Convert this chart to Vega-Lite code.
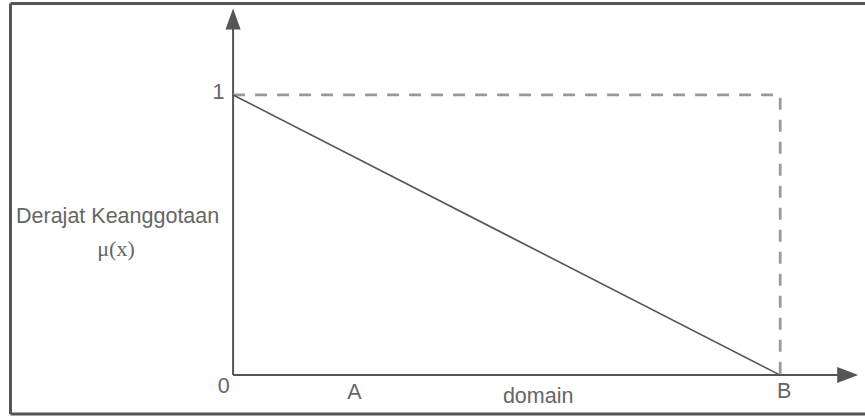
{
  "$schema": "https://vega.github.io/schema/vega-lite/v6.json",
  "width": 865,
  "height": 416,
  "autosize": "none",
  "padding": 0,
  "background": "white",
  "config": {"view": {"stroke": null}},
  "datasets": {
    "frame": [
      {"x": -0.4068, "x2": -0.4068, "y": -0.139, "y2": 1.3265},
      {"x": -0.4068, "x2": 1.25, "y": 1.3265, "y2": 1.3265},
      {"x": -0.4068, "x2": 1.25, "y": -0.139, "y2": -0.139}
    ],
    "axes": [
      {"x": 0, "x2": 0, "y": 0, "y2": 1.26},
      {"x": 0, "x2": 1.12, "y": 0, "y2": 0}
    ],
    "dashed": [
      {"x": 0, "y": 1, "o": 1},
      {"x": 1, "y": 1, "o": 2},
      {"x": 1, "y": 0, "o": 3}
    ],
    "solid": [
      {"x": 0, "y": 1},
      {"x": 1, "y": 0}
    ],
    "arrowUp": [{"x": 0, "y": 1.271}],
    "arrowRight": [{"x": 1.1234, "y": 0}],
    "labels": [
      {"label": "1", "x": -0.0265, "y": 0.986},
      {"label": "0", "x": -0.017, "y": -0.064},
      {"label": "A", "x": 0.222, "y": -0.0857},
      {"label": "domain", "x": 0.5576, "y": -0.1},
      {"label": "B", "x": 1.0073, "y": -0.082},
      {"label": "Derajat Keanggotaan", "x": -0.211, "y": 0.543}
    ],
    "mu": [{"label": "μ(x)", "x": -0.2139, "y": 0.425}]
  },
  "layer": [
    {
      "data": {"name": "frame"},
      "mark": {"type": "rule", "stroke": "#555555", "strokeWidth": 3},
      "encoding": {
        "x": {"field": "x", "type": "quantitative", "scale": {"domain": [-0.426, 1.155], "nice": false, "zero": false}, "axis": null},
        "x2": {"field": "x2"},
        "y": {"field": "y", "type": "quantitative", "scale": {"domain": [-0.146, 1.339], "nice": false, "zero": false}, "axis": null},
        "y2": {"field": "y2"}
      }
    },
    {
      "data": {"name": "axes"},
      "mark": {"type": "rule", "stroke": "#555555", "strokeWidth": 2},
      "encoding": {
        "x": {"field": "x", "type": "quantitative"},
        "x2": {"field": "x2"},
        "y": {"field": "y", "type": "quantitative"},
        "y2": {"field": "y2"}
      }
    },
    {
      "data": {"name": "dashed"},
      "mark": {"type": "line", "stroke": "#999999", "strokeWidth": 2.7, "strokeDash": [12, 10]},
      "encoding": {
        "x": {"field": "x", "type": "quantitative"},
        "y": {"field": "y", "type": "quantitative"},
        "order": {"field": "o"}
      }
    },
    {
      "data": {"name": "solid"},
      "mark": {"type": "line", "stroke": "#555555", "strokeWidth": 1.6},
      "encoding": {
        "x": {"field": "x", "type": "quantitative"},
        "y": {"field": "y", "type": "quantitative"}
      }
    },
    {
      "data": {"name": "arrowUp"},
      "mark": {"type": "point", "shape": "M0,-1L0.72,1L-0.72,1Z", "size": 441, "filled": true, "fill": "#555555", "opacity": 1, "strokeWidth": 0},
      "encoding": {
        "x": {"field": "x", "type": "quantitative"},
        "y": {"field": "y", "type": "quantitative"}
      }
    },
    {
      "data": {"name": "arrowRight"},
      "mark": {"type": "point", "shape": "M1,0L-1,-0.76L-1,0.76Z", "size": 441, "filled": true, "fill": "#555555", "opacity": 1, "strokeWidth": 0},
      "encoding": {
        "x": {"field": "x", "type": "quantitative"},
        "y": {"field": "y", "type": "quantitative"}
      }
    },
    {
      "data": {"name": "labels"},
      "mark": {"type": "text", "font": "Liberation Sans", "fontSize": 21.5, "fill": "#666666", "align": "center", "baseline": "alphabetic"},
      "encoding": {
        "x": {"field": "x", "type": "quantitative"},
        "y": {"field": "y", "type": "quantitative"},
        "text": {"field": "label"}
      }
    },
    {
      "data": {"name": "mu"},
      "mark": {"type": "text", "font": "Liberation Serif", "fontSize": 22, "fill": "#666666", "align": "center", "baseline": "alphabetic"},
      "encoding": {
        "x": {"field": "x", "type": "quantitative"},
        "y": {"field": "y", "type": "quantitative"},
        "text": {"field": "label"}
      }
    }
  ]
}
